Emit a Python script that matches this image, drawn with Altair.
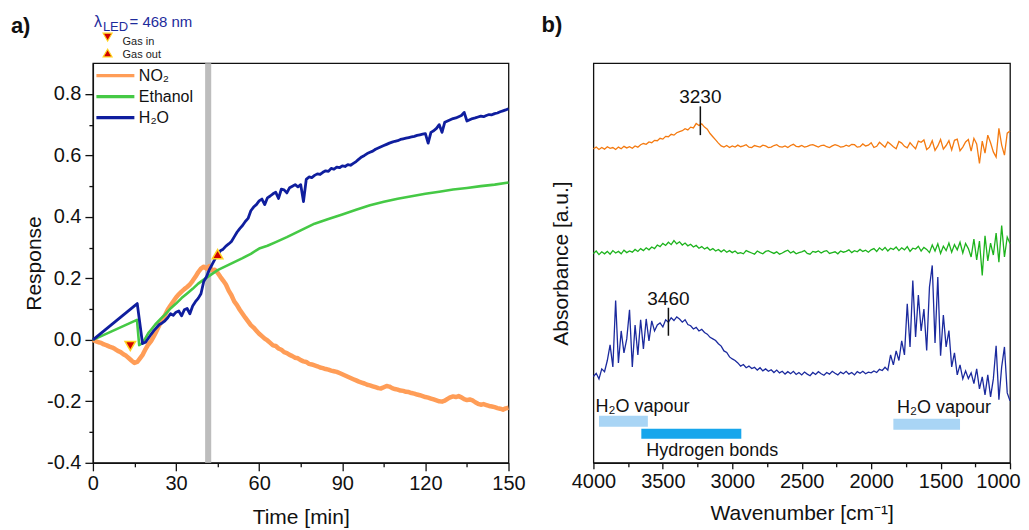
import altair as alt
import pandas as pd

FONT = "Liberation Sans"

# ---------------- panel a: response vs time ----------------
gases = ["NO₂", "Ethanol", "H₂O"]
gas_colors = ["#FF9D57", "#45C945", "#0F1E9E"]
gas_widths = [4.5, 2.6, 2.8]

t_no2 = list(range(0, 151))
v_no2 = [0.000, -0.004, -0.008, -0.010, -0.015, -0.018, -0.022, -0.025, -0.030, -0.036,
         -0.040, -0.047, -0.052, -0.060, -0.068, -0.075, -0.072, -0.060, -0.048, -0.030,
         -0.015, -0.004, 0.012, 0.030, 0.048, 0.066, 0.080, 0.098, 0.112, 0.125,
         0.138, 0.148, 0.157, 0.165, 0.172, 0.180, 0.192, 0.205, 0.220, 0.232,
         0.238, 0.232, 0.240, 0.226, 0.228, 0.218, 0.205, 0.193, 0.180, 0.160,
         0.145, 0.125, 0.113, 0.098, 0.085, 0.072, 0.060, 0.048, 0.040, 0.030,
         0.020, 0.012, 0.004, -0.002, -0.010, -0.018, -0.020, -0.028, -0.032, -0.040,
         -0.043, -0.049, -0.053, -0.058, -0.060, -0.066, -0.070, -0.072, -0.078, -0.080,
         -0.083, -0.086, -0.090, -0.092, -0.095, -0.097, -0.100, -0.102, -0.104, -0.108,
         -0.112, -0.116, -0.120, -0.124, -0.128, -0.132, -0.136, -0.139, -0.142, -0.146,
         -0.148, -0.151, -0.154, -0.157, -0.158, -0.154, -0.150, -0.152, -0.157, -0.160,
         -0.162, -0.165, -0.166, -0.169, -0.170, -0.173, -0.175, -0.178, -0.180, -0.183,
         -0.186, -0.188, -0.191, -0.194, -0.197, -0.200, -0.201, -0.198, -0.192, -0.187,
         -0.184, -0.186, -0.183, -0.187, -0.193, -0.196, -0.194, -0.197, -0.203, -0.208,
         -0.211, -0.209, -0.212, -0.215, -0.217, -0.219, -0.222, -0.224, -0.227, -0.223,
         -0.221]

t_eth = [0, 15.9, 16.7, 18, 20, 21, 22.5, 24.5, 26, 28, 30, 32, 34, 36, 38, 40, 42, 45, 48,
         51, 54, 57, 60, 63, 66, 70, 75, 80, 85, 90, 95, 100, 105, 110, 115, 120, 125, 130,
         135, 140, 145, 150]
v_eth = [0.000, 0.065, -0.017, -0.010, 0.022, 0.033, 0.050, 0.069, 0.082, 0.102, 0.118,
         0.136, 0.151, 0.166, 0.183, 0.196, 0.208, 0.227, 0.240, 0.253, 0.266, 0.280, 0.297,
         0.306, 0.318, 0.334, 0.356, 0.378, 0.393, 0.408, 0.423, 0.438, 0.449, 0.459, 0.467,
         0.475, 0.482, 0.489, 0.494, 0.500, 0.505, 0.512]

t_h2o = [0, 16, 17.9] + list(range(19, 151))
v_h2o = [0.000, 0.118, -0.012,
         -0.008, 0.005, 0.018, 0.030, 0.040, 0.050, 0.055, 0.062, 0.072, 0.085,
         0.080, 0.090, 0.094, 0.078, 0.098, 0.102, 0.085, 0.110, 0.124, 0.135,
         0.150, 0.190, 0.205, 0.228, 0.245, 0.262, 0.276, 0.290, 0.295, 0.305,
         0.312, 0.320, 0.335, 0.350, 0.362, 0.372, 0.385, 0.395, 0.420, 0.432,
         0.440, 0.452, 0.458, 0.440, 0.462, 0.468, 0.475, 0.480, 0.460, 0.490,
         0.488, 0.478, 0.495, 0.500, 0.505, 0.498, 0.505, 0.450, 0.522, 0.530,
         0.528, 0.535, 0.540, 0.538, 0.545, 0.550, 0.548, 0.558, 0.555, 0.562,
         0.560, 0.566, 0.564, 0.570, 0.568, 0.574, 0.580, 0.588, 0.595, 0.600,
         0.606, 0.610, 0.614, 0.620, 0.624, 0.628, 0.632, 0.636, 0.640, 0.643,
         0.646, 0.648, 0.652, 0.654, 0.656, 0.658, 0.660, 0.662, 0.665, 0.667,
         0.669, 0.671, 0.640, 0.675, 0.680, 0.688, 0.700, 0.675, 0.708, 0.712,
         0.716, 0.720, 0.722, 0.726, 0.730, 0.740, 0.712, 0.716, 0.720, 0.722,
         0.725, 0.728, 0.726, 0.730, 0.733, 0.732, 0.736, 0.738, 0.742, 0.745,
         0.748, 0.752]

event_t = [13.5, 45.0]
event_v = [-0.02, 0.279]
event_shape = ["triangle-down", "triangle-up"]
event_names = ["Gas in", "Gas out"]
band_t = [40.5, 42.7]

# ---------------- panel b: FTIR spectra ----------------
wavenumber = list(range(4000, 999, -20))
abs_no2 = [78.6, 79.0, 78.4, 78.9, 78.5, 79.1, 78.7, 78.9, 78.4, 79.0, 78.6, 79.2, 78.8, 79.1, 78.7,
           79.3, 79.0, 79.6, 79.9, 79.7, 80.3, 80.1, 80.7, 80.6, 81.2, 81.0, 81.7, 81.6, 82.2, 82.0,
           82.6, 82.9, 83.1, 83.6, 83.3, 84.0, 83.8, 84.9, 84.4, 84.8, 84.0, 83.5, 82.4, 81.6, 80.8,
           80.0, 79.3, 79.0, 79.4, 78.9, 79.3,
           79.0, 79.5, 79.1, 79.3, 79.6, 79.0, 78.9, 79.4, 79.2, 79.0,
           79.5, 79.3, 78.9, 79.0, 79.4, 79.6, 79.1, 79.0, 79.3, 78.9,
           79.4, 79.7, 79.2, 79.1, 79.4, 79.0, 79.2, 79.5, 79.6, 79.3,
           79.0, 79.4, 79.5, 79.1, 78.9, 79.3, 79.6, 79.4, 79.0, 79.1,
           79.5, 79.2, 79.7, 79.6, 79.0,
           79.1, 79.8, 79.3, 79.5, 80.1, 78.9, 79.2, 80.2, 79.6, 79.0,
           80.3, 79.7, 79.1, 78.6, 80.4, 80.0, 79.2, 78.8, 80.1, 79.3,
           78.6, 80.5, 80.2, 80.8, 78.4, 79.0, 80.6, 78.2, 79.3, 80.9,
           78.5, 79.4, 80.6, 78.3, 80.7, 81.0, 78.1, 79.0, 80.3, 80.9,
           78.0, 81.2, 79.8, 74.9, 80.5, 77.5, 82.0, 80.1, 77.8, 76.5, 83.7, 79.5, 77.0, 82.5, 83.0]
abs_eth = [52.4, 53.0, 52.1, 52.8, 52.3, 52.9, 52.2, 53.1, 52.5, 52.9, 52.3, 53.2, 52.6,
           53.0, 52.7, 53.4, 52.9, 53.6, 53.1, 53.8, 53.3,
           54.0, 53.6, 54.5, 54.1, 54.9, 54.4, 55.2, 54.6, 55.6, 54.8, 55.3, 54.5, 55.0, 54.3, 54.7,
           54.0, 54.4, 53.7, 54.1, 53.5, 53.9, 53.2, 53.6, 53.0, 53.4, 52.8, 53.3, 52.7, 53.1, 52.6,
           53.0, 52.4, 52.6, 52.3, 53.1, 52.8, 52.5, 52.2, 53.0, 52.6,
           52.3, 52.9, 53.1, 52.7, 52.4, 52.8, 52.2, 52.5, 52.9, 53.2,
           52.5, 52.9, 52.3, 52.6, 52.8, 53.1, 52.4, 52.2, 52.9, 52.7,
           53.0, 52.5, 52.9, 53.1, 52.4, 52.6, 52.8, 52.3, 53.0, 52.7,
           52.9, 53.3, 52.6, 53.1, 52.8, 53.4, 52.9, 53.2, 52.7, 53.3,
           53.6, 52.9, 53.8, 53.2, 53.9, 53.0, 53.7, 53.4, 54.0, 53.1,
           53.8, 53.3, 54.1, 52.9, 53.7, 53.5, 54.2, 53.0, 53.9, 53.4,
           52.6, 54.5, 53.0, 54.8, 52.4, 54.2, 53.1, 55.0, 52.7, 54.6, 53.3, 55.2, 52.5, 54.9, 53.6,
           51.5, 56.0, 50.8, 55.5, 46.9, 56.8, 50.5, 55.0, 52.0, 57.5, 50.2, 59.4, 51.5, 56.5, 54.9]
abs_h2o = [21.6, 22.4, 21.0, 23.5, 22.8, 25.6, 29.5, 24.0, 40.6, 25.0,
           33.0, 27.5, 31.0, 38.3, 24.0, 34.5, 27.0, 35.8, 28.5, 36.0,
           30.5, 35.5, 33.0, 34.5, 35.0, 34.0, 35.8, 35.2, 36.3, 35.6,
           36.5, 36.0, 35.2, 35.8, 34.6, 34.3, 33.5, 33.9, 33.0, 33.4,
           32.6, 32.2, 31.4, 31.0, 30.6, 29.8, 29.2, 28.0, 27.6, 26.5,
           26.0, 25.6, 25.0, 24.2, 24.6, 23.8, 24.2, 23.6, 23.9, 23.2,
           23.8, 23.0, 23.5, 22.9, 23.3, 22.6, 23.2, 22.5, 22.9, 22.2,
           22.8, 22.3, 22.9, 22.1, 22.6, 22.0, 22.7, 22.2, 21.8, 22.6,
           22.1, 22.8, 22.3, 21.9, 22.6, 22.2, 22.9, 22.4, 22.0, 22.7,
           22.3, 22.9, 22.2, 22.6, 22.0, 22.8, 22.4, 22.9, 22.3, 22.7,
           22.5, 23.0, 22.6, 23.4, 23.1, 23.9, 23.2, 27.0, 24.5, 28.0,
           25.6, 30.5, 27.0, 39.8, 29.0, 45.6, 31.5, 42.0, 33.0, 38.5,
           28.1, 44.0, 49.4, 30.0, 46.5, 26.8, 37.0, 29.0, 33.1, 24.0,
           27.5, 22.0, 24.5, 21.0, 23.0, 21.1, 22.5, 19.8, 23.5, 18.5,
           21.5, 17.0, 22.0, 16.5, 21.0, 29.3, 15.8, 24.0, 29.0, 17.5,
           15.5]

peak_wn = [3230, 3460]
peak_text = ["3230", "3460"]
peak_text_y = [91.6, 41.1]
peak_tick_top = [89.2, 38.8]
peak_tick_bottom = [82.0, 31.8]

band_labels = ["H₂O vapour", "Hydrogen bonds", "H₂O vapour"]
band_from = [3960, 3655, 1840]
band_to = [3608, 2935, 1360]
band_y_top = [11.8, 8.5, 11.0]
band_y_bottom = [9.0, 6.0, 8.3]
band_colors = ["#A9D5F5", "#17A6EC", "#A9D5F5"]
band_label_wn = [3985, 3619, 1813]
band_label_y = [14.0, 3.0, 13.8]

# ---------------- build panel a ----------------
W_A, H_A = 416, 400
xa_scale = alt.Scale(domain=[0, 150], nice=False, zero=False)
ya_scale = alt.Scale(domain=[-0.4, 0.9], nice=False, zero=False)

xa_axis = alt.Axis(
    values=list(range(0, 151, 15)), title="Time [min]",
    labelExpr="datum.value % 30 == 0 ? datum.label : ''",
    tickSize={"condition": {"test": "datum.value % 30 == 0", "value": 8}, "value": 4},
    labelPadding=3, titlePadding=13, grid=False, labelFlush=False, labelOverlap=False,
)
ya_axis = alt.Axis(
    values=[round(-0.4 + 0.1 * i, 1) for i in range(13)], title="Response",
    labelExpr="abs(round(datum.value*10)) % 2 == 0 ? replace(format(datum.value, '.1f'), '\u2212', '-') : ''",
    tickSize={"condition": {"test": "abs(round(datum.value*10)) % 2 == 0", "value": 8}, "value": 4},
    labelPadding=4, titlePadding=2, grid=False, labelFlush=False, labelOverlap=False,
)

XA = alt.X("x:Q", scale=xa_scale, axis=xa_axis)
YA = alt.Y("y:Q", scale=ya_scale, axis=ya_axis)

rows = []
for g, ts, vs in [(gases[0], t_no2, v_no2), (gases[1], t_eth, v_eth), (gases[2], t_h2o, v_h2o)]:
    for t, v in zip(ts, vs):
        rows.append({"x": t, "y": v, "gas": g})
df_lines = pd.DataFrame(rows)

band_df = pd.DataFrame({"x": [band_t[0]], "x2": [band_t[1]], "y": [-0.4], "y2": [0.9]})
band = alt.Chart(band_df).mark_rect(color="#BDBDBD").encode(
    x=XA, x2="x2:Q", y=YA, y2="y2:Q")

color_enc = alt.Color(
    "gas:N",
    scale=alt.Scale(domain=gases, range=gas_colors),
    legend=alt.Legend(
        orient="none", legendX=11, legendY=1, title=None, padding=0,
        symbolType="M-2,0L2,0", symbolSize=361, symbolStrokeWidth=3.2,
        labelFont=FONT, labelFontSize=16, labelColor="#111", labelOffset=12,
        rowPadding=1, values=gases,
    ),
)

line_layers = []
for g, w in zip(gases, gas_widths):
    line_layers.append(
        alt.Chart(df_lines).transform_filter(alt.datum.gas == g)
        .mark_line(strokeWidth=w, strokeJoin="round")
        .encode(x=XA, y=YA, color=color_enc, order="x:Q")
    )

ev_df = pd.DataFrame({"x": event_t, "y": event_v, "shape": event_shape, "name": event_names})
events = alt.Chart(ev_df).mark_point(filled=True, fill="#D10000", stroke="#FFD21F",
                                     strokeWidth=1.5, size=110, opacity=1).encode(
    x=XA, y=YA,
    shape=alt.Shape("shape:N", scale=None, legend=None),
)

# annotations above plot a (data coordinates)
key_df = pd.DataFrame({"x": [5.3, 5.3], "y": [0.985, 0.933], "shape": event_shape})
key_markers = alt.Chart(key_df).mark_point(filled=True, fill="#D10000", stroke="#FFD21F",
                                           strokeWidth=1.2, size=80, opacity=1, clip=False).encode(
    x=XA, y=YA, shape=alt.Shape("shape:N", scale=None, legend=None))
key_text_df = pd.DataFrame({"x": [10.7, 10.7], "y": [0.968, 0.926], "t": event_names})
key_text = alt.Chart(key_text_df).mark_text(align="left", baseline="middle", font=FONT,
                                            fontSize=11, color="#222").encode(
    x=XA, y=YA, text="t:N")

led_df = pd.DataFrame({"x": [0.36, 3.6, 13.2], "y": [1.033, 1.019, 1.033],
                       "t": ["λ", "LED", "= 468 nm"], "s": [16, 13, 15]})
led_text = alt.Chart(led_df).mark_text(align="left", baseline="middle", font=FONT,
                                       color="#1E2C9C").encode(
    x=XA, y=YA, text="t:N", size=alt.Size("s:Q", scale=None, legend=None))

lab_a = alt.Chart(pd.DataFrame({"x": [-29.6], "y": [1.020], "t": ["a)"]})).mark_text(
    align="left", baseline="middle", font=FONT, fontSize=22, fontWeight="bold", color="#111"
).encode(x=XA, y=YA, text="t:N")

panel_a = alt.layer(band, *line_layers, events, key_markers, key_text, led_text, lab_a).properties(
    width=W_A, height=H_A)

# ---------------- build panel b ----------------
W_B, H_B = 417, 400
xb_scale = alt.Scale(domain=[1000, 4000], reverse=True, nice=False, zero=False)
yb_scale = alt.Scale(domain=[0, 100], nice=False, zero=False)
xb_axis = alt.Axis(
    values=list(range(1000, 4001, 250)), title="Wavenumber [cm⁻¹]",
    labelExpr="datum.value % 500 == 0 ? datum.value : ''",
    tickSize={"condition": {"test": "datum.value % 500 == 0", "value": 6}, "value": 4},
    labelOffset={"condition": {"test": "datum.value == 1000", "value": -12}, "value": 0},
    labelPadding=3, titlePadding=11, grid=False, labelFlush=False, labelOverlap=False,
)
yb_axis = alt.Axis(labels=False, ticks=False, domain=False, grid=False,
                   title="Absorbance [a.u.]", titlePadding=22)
XB = alt.X("x:Q", scale=xb_scale, axis=xb_axis)
YB = alt.Y("y:Q", scale=yb_scale, axis=yb_axis)

spec_colors = ["#F47A10", "#1DB31D", "#1B2A9E"]
spec_layers = []
for vals, c in zip([abs_no2, abs_eth, abs_h2o], spec_colors):
    d = pd.DataFrame({"x": wavenumber, "y": vals})
    spec_layers.append(alt.Chart(d).mark_line(color=c, strokeWidth=1.3).encode(x=XB, y=YB))

pk_df = pd.DataFrame({"x": peak_wn, "t": peak_text, "y": peak_text_y,
                      "ya": peak_tick_top, "yb": peak_tick_bottom})
pk_rules = alt.Chart(pk_df).mark_rule(color="#111", strokeWidth=1.5).encode(
    x=XB, y=alt.Y("ya:Q", scale=yb_scale, axis=yb_axis), y2="yb:Q")
pk_text = alt.Chart(pk_df).mark_text(font=FONT, fontSize=19, color="#111",
                                     baseline="middle").encode(x=XB, y=YB, text="t:N")

bars_df = pd.DataFrame({"x": band_from, "x2": band_to, "y": band_y_top, "y2": band_y_bottom,
                        "c": band_colors})
bars = alt.Chart(bars_df).mark_rect().encode(
    x=XB, x2="x2:Q", y=YB, y2="y2:Q", color=alt.Color("c:N", scale=None, legend=None))
bl_df = pd.DataFrame({"x": band_label_wn, "y": band_label_y, "t": band_labels})
bar_text = alt.Chart(bl_df).mark_text(align="left", baseline="middle", font=FONT,
                                      fontSize=18, color="#111").encode(x=XB, y=YB, text="t:N")

lab_b = alt.Chart(pd.DataFrame({"x": [4374], "y": [109.5], "t": ["b)"]})).mark_text(
    align="left", baseline="middle", font=FONT, fontSize=22, fontWeight="bold", color="#111"
).encode(x=XB, y=YB, text="t:N")

panel_b = alt.layer(*spec_layers, pk_rules, pk_text, bars, bar_text, lab_b).properties(
    width=W_B, height=H_B)

chart = alt.hconcat(panel_a, panel_b, spacing=85, bounds="flush").properties(
    padding={"left": 2, "top": 5, "right": 0, "bottom": 0}
).configure_view(stroke="#111", strokeWidth=1.3).configure_axis(
    labelFont=FONT, titleFont=FONT, labelFontSize=20, titleFontSize=21,
    titleFontWeight="normal", labelColor="#111", titleColor="#111",
    domainColor="#111", tickColor="#111", domainWidth=1.3, tickWidth=1.3,
).configure_text(font=FONT)

chart.save("out.html", embed_options={"renderer": "svg", "actions": False})
